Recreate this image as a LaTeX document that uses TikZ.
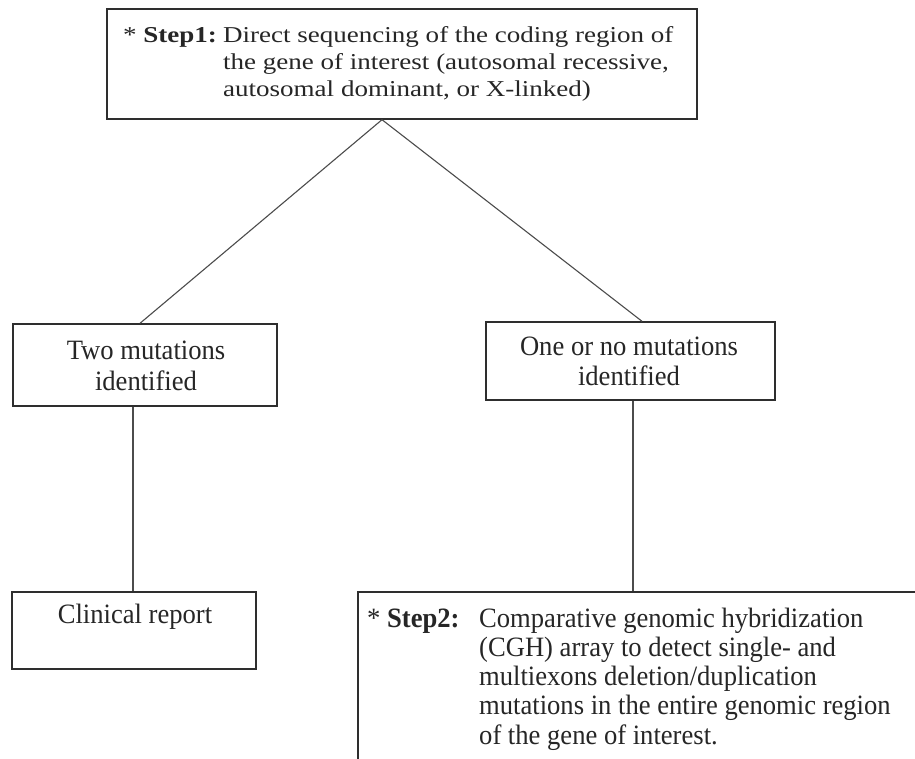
\documentclass[tikz,border=0pt]{standalone}
\usepackage{fontspec}
\setmainfont{Liberation Serif}
\newfontfamily\topfont[FakeStretch=1.19]{Liberation Serif}
\newfontfamily\boxfont[FakeStretch=0.95]{Liberation Serif}
\begin{document}
\begin{tikzpicture}[x=1pt,y=-1pt,
  box/.style={draw=black!82, line width=1.4pt, inner sep=0pt, rectangle},
  conn/.style={draw=black!70, line width=1.1pt},
  txt/.style={inner sep=0pt, text=black!85}]
\useasboundingbox (0,0) rectangle (915,759);
\clip (0,0) rectangle (915,759);
\fill[white] (0,0) rectangle (915,759);
% boxes
\node[box, minimum width=590pt, minimum height=110pt] (top) at (402,64) {};
\node[box, minimum width=264pt, minimum height=82pt] (two) at (145,365) {};
\node[box, minimum width=289pt, minimum height=78pt] (one) at (630.5,361) {};
\node[box, minimum width=244pt, minimum height=77pt] (clin) at (134,630.5) {};
\node[box, minimum width=582pt, minimum height=198pt] (step2) at (649,691) {};
% connectors
\draw[conn] ([xshift=-20pt]top.south) -- ([xshift=-5pt]two.north);
\draw[conn] ([xshift=-20pt]top.south) -- ([xshift=11.5pt]one.north);
\draw[conn] ([xshift=-12pt]two.south) -- ([xshift=-12pt]two.south |- clin.north);
\draw[conn] ([xshift=2.5pt]one.south) -- ([xshift=2.5pt]one.south |- step2.north);
% texts
\node[txt, anchor=base west] (t1) at (123,43) {\topfont\fontsize{22.7}{27}\selectfont
  \begin{tabular}[t]{@{}l@{}l@{}}
  \makebox[100pt][l]{* \textbf{Step1:}} & Direct sequencing of the coding region of\\
   & the gene of interest (autosomal recessive,\\
   & autosomal dominant, or X-linked)
  \end{tabular}};
\node[txt, anchor=base] (t2) at (146,359) {\boxfont\fontsize{28}{31}\selectfont
  \begin{tabular}[t]{@{}c@{}}Two mutations\\ identified\end{tabular}};
\node[txt, anchor=base] (t3) at (629,355) {\boxfont\fontsize{28}{30}\selectfont
  \begin{tabular}[t]{@{}c@{}}One or no mutations\\ identified\end{tabular}};
\node[txt, anchor=base] (t4) at (135,623) {\boxfont\fontsize{28}{30}\selectfont Clinical report};
\node[txt, anchor=base west] (t5) at (367,627) {\boxfont\fontsize{28}{29.3}\selectfont
  \begin{tabular}[t]{@{}l@{}l@{}}
  \makebox[112pt][l]{* \textbf{Step2:}} & Comparative genomic hybridization\\
   & (CGH) array to detect single- and\\
   & multiexons deletion/duplication\\
   & mutations in the entire genomic region\\
   & of the gene of interest.
  \end{tabular}};
\end{tikzpicture}
\end{document}
